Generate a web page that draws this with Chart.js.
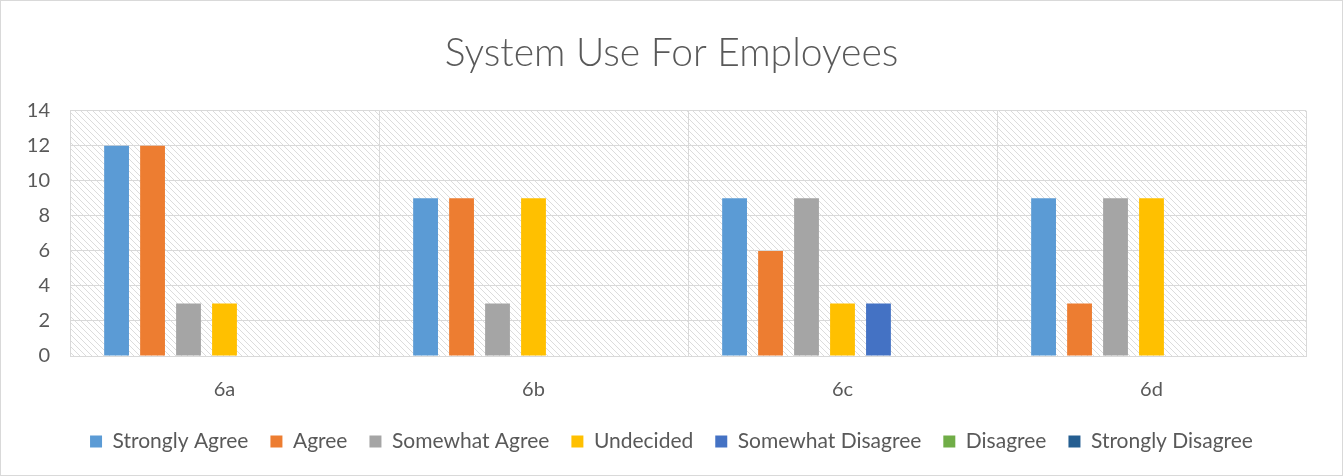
<!DOCTYPE html>
<html>
<head>
<meta charset="utf-8">
<script src="https://cdn.jsdelivr.net/npm/chart.js@4"></script>
<style>
  html, body { margin: 0; padding: 0; background: #fff; }
  #wrap { position: relative; width: 1343px; height: 476px; box-sizing: border-box; border: 1px solid #d9d9d9; }
  canvas { display: block; }
</style>
</head>
<body>
<div id="wrap"><canvas id="chart" width="1341" height="474"></canvas></div>
<script>
const categories = ["6a", "6b", "6c", "6d"];
const seriesNames = ["Strongly Agree", "Agree", "Somewhat Agree", "Undecided", "Somewhat Disagree", "Disagree", "Strongly Disagree"];
const stronglyAgree = [12, 9, 9, 9];
const agree = [12, 9, 6, 3];
const somewhatAgree = [3, 3, 9, 9];
const undecided = [3, 9, 3, 9];
const somewhatDisagree = [0, 0, 3, 0];
const disagree = [0, 0, 0, 0];
const stronglyDisagree = [0, 0, 0, 0];
const yTicks = [0, 2, 4, 6, 8, 10, 12, 14];

const colors = ["#5B9BD5", "#ED7D31", "#A5A5A5", "#FFC000", "#4472C4", "#70AD47", "#255E91"];
const values = [stronglyAgree, agree, somewhatAgree, undecided, somewhatDisagree, disagree, stronglyDisagree];

const FONT = "Lato, sans-serif";
const GRID = "#d9d9d9";
const TEXT = "#595959";

// diagonal hatch for plot area
function makeHatch(ctx) {
    const c = document.createElement("canvas");
    c.width = 6;
    c.height = 6;
    const g = c.getContext("2d");
    g.fillStyle = "#fff";
    g.fillRect(0, 0, 6, 6);
    g.strokeStyle = "#dcdcdc";
    g.lineWidth = 1;
    g.beginPath();
    g.moveTo(-1, -1); g.lineTo(7, 7);
    g.moveTo(-1, 5); g.lineTo(1, 7);
    g.moveTo(5, -1); g.lineTo(7, 1);
    g.stroke();
    return ctx.createPattern(c, "repeat");
}

const hatchPlugin = {
    id: "hatch",
    beforeDraw(chart) {
        const a = chart.chartArea;
        const ctx = chart.ctx;
        ctx.save();
        ctx.fillStyle = makeHatch(ctx);
        ctx.fillRect(a.left, a.top, a.right - a.left, a.bottom - a.top);
        ctx.restore();
    }
};

const datasets = seriesNames.map(function (name, i) {
    return {
        label: name,
        data: values[i],
        backgroundColor: colors[i],
        borderWidth: 0,
        categoryPercentage: 0.815,
        barPercentage: 0.69
    };
});

new Chart(document.getElementById("chart"), {
    type: "bar",
    data: { labels: categories, datasets: datasets },
    plugins: [hatchPlugin],
    options: {
        responsive: false,
        animation: false,
        devicePixelRatio: 1,
        layout: { padding: { left: 0, right: 0, top: 0, bottom: 13 } },
        plugins: {
            title: {
                display: true,
                text: "System Use For Employees",
                color: TEXT,
                font: { family: FONT, size: 39, weight: 300 },
                padding: { top: 29, bottom: 34 }
            },
            legend: {
                position: "bottom",
                labels: {
                    color: TEXT,
                    boxWidth: 12,
                    boxHeight: 12,
                    padding: 22,
                    font: { family: FONT, size: 21 }
                }
            },
            tooltip: { enabled: false }
        },
        scales: {
            x: {
                afterFit: function (axis) { axis.height = 53; },
                grid: { color: GRID, drawTicks: false, offset: true },
                border: { color: GRID },
                ticks: { color: TEXT, padding: 22, font: { family: FONT, size: 20 } }
            },
            y: {
                min: 0,
                max: 14,
                afterBuildTicks: function (axis) {
                    axis.ticks = yTicks.map(function (v) { return { value: v }; });
                },
                afterFit: function (axis) { axis.width = 69; },
                grid: { color: GRID, drawTicks: false },
                border: { color: GRID },
                ticks: { color: TEXT, padding: 20, font: { family: FONT, size: 20 } }
            },
            // empty right-hand gutter so title and legend stay centred on the canvas
            gutter: {
                type: "linear",
                position: "right",
                min: 0,
                max: 14,
                afterFit: function (axis) { axis.width = 36; },
                grid: { display: false, drawOnChartArea: false },
                border: { display: false },
                ticks: { display: false }
            }
        }
    }
});
</script>
</body>
</html>
